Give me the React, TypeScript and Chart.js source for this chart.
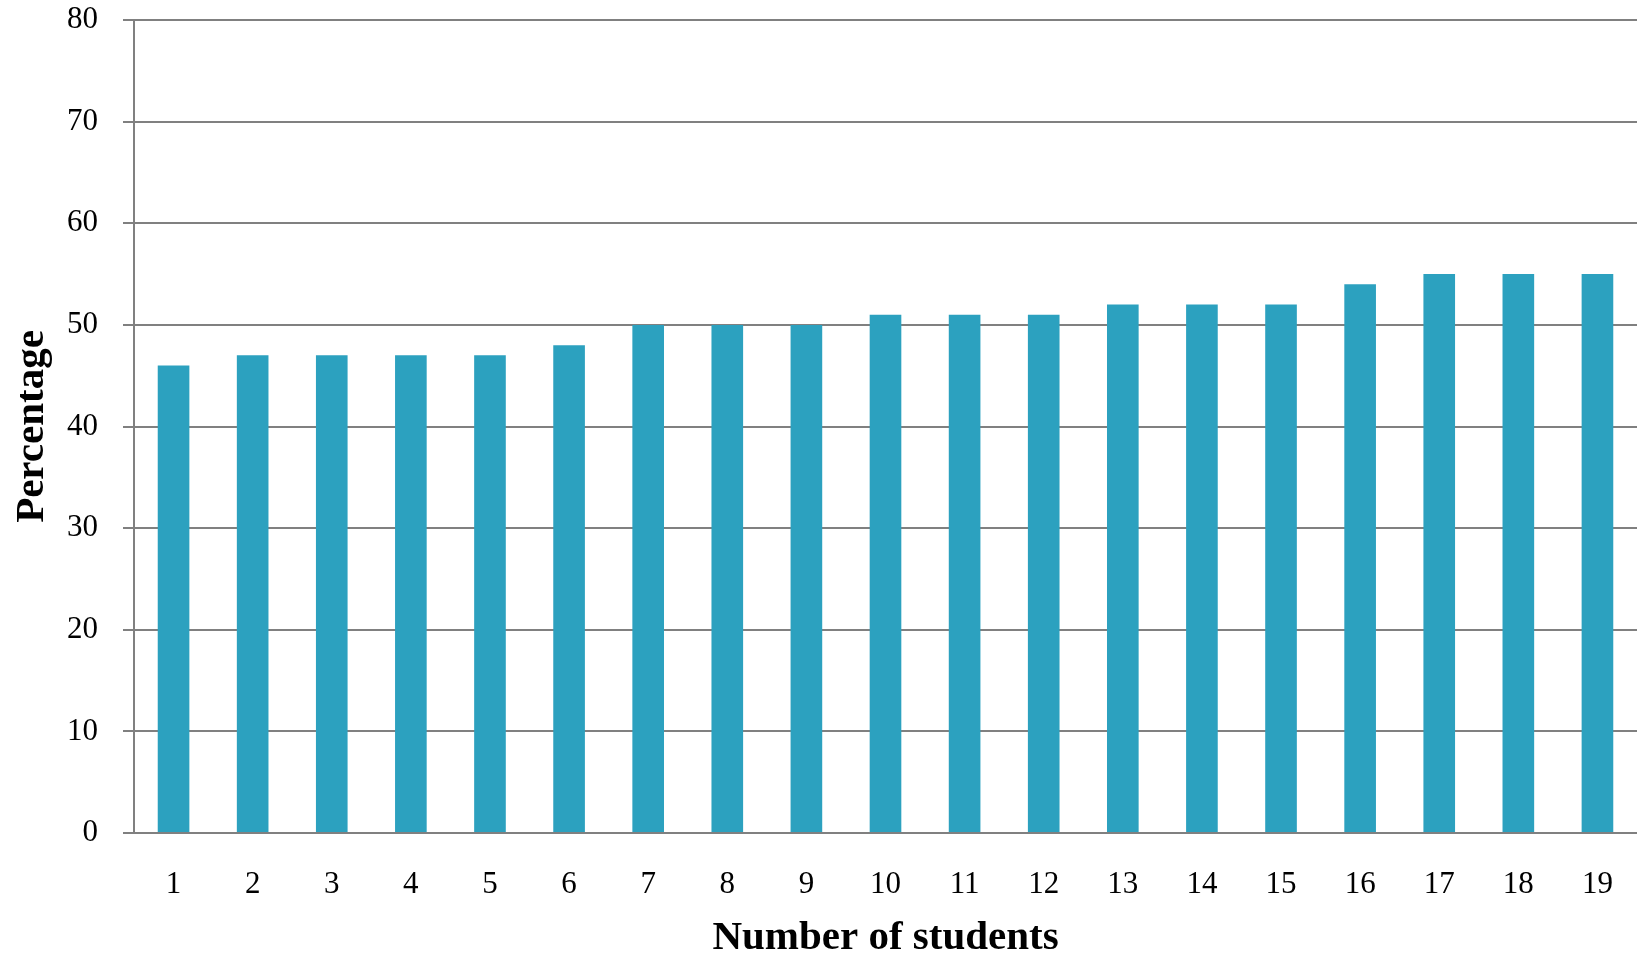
import React, { useEffect, useRef } from "react";
import { Chart, registerables } from "chart.js";

Chart.register(...registerables);

// Percentage for each number of students
const studentCounts: string[] = [
  "1", "2", "3", "4", "5", "6", "7", "8", "9", "10",
  "11", "12", "13", "14", "15", "16", "17", "18", "19",
];
const percentages: number[] = [
  46, 47, 47, 47, 47, 48, 50, 50, 50, 51,
  51, 51, 52, 52, 52, 54, 55, 55, 55,
];
const yTickValues: number[] = [0, 10, 20, 30, 40, 50, 60, 70, 80];

const xTitle = "Number of students";
const yTitle = "Percentage";

const WIDTH = 1637;
const HEIGHT = 954;
const BAR_COLOR = "rgb(44, 161, 191)";
const GRID_COLOR = "#808080";
const FONT = "'Liberation Serif', 'DejaVu Serif', serif";

export default function App() {
  const canvasRef = useRef<HTMLCanvasElement | null>(null);

  useEffect(() => {
    const canvas = canvasRef.current;
    if (!canvas) return;
    const chart = new Chart(canvas, {
      type: "bar",
      data: {
        labels: studentCounts,
        datasets: [
          {
            data: percentages,
            backgroundColor: BAR_COLOR,
            borderWidth: 0,
            barPercentage: 0.4,
            categoryPercentage: 1,
          },
        ],
      },
      options: {
        responsive: false,
        animation: false,
        devicePixelRatio: 1,
        layout: { padding: { top: 20, right: 0, left: 0, bottom: 0 } },
        plugins: {
          legend: { display: false },
          tooltip: { enabled: false },
        },
        scales: {
          x: {
            offset: true,
            grid: { display: false, drawTicks: false, drawOnChartArea: false },
            border: { display: true, color: GRID_COLOR, width: 2 },
            ticks: {
              color: "#000",
              font: { family: FONT, size: 31 },
              padding: 33,
              maxRotation: 0,
              autoSkip: false,
            },
            title: {
              display: true,
              text: xTitle,
              color: "#000",
              font: { family: FONT, size: 41, weight: "bold", lineHeight: 0.7 },
              padding: { top: 0, bottom: 1 },
            },
            afterFit: (scale: any) => {
              scale.height = 121;
              scale.paddingLeft = 0;
              scale.paddingRight = 0;
            },
          },
          y: {
            min: 0,
            max: 80,
            afterBuildTicks: (scale: any) => {
              scale.ticks = yTickValues.map((v) => ({ value: v }));
            },
            grid: {
              color: GRID_COLOR,
              lineWidth: 2,
              drawTicks: true,
              tickLength: 11,
              tickColor: GRID_COLOR,
            },
            border: { display: true, color: GRID_COLOR, width: 2 },
            ticks: {
              color: "#000",
              font: { family: FONT, size: 31 },
              padding: 25,
            },
            title: {
              display: true,
              text: yTitle,
              color: "#000",
              font: { family: FONT, size: 41, weight: "bold", lineHeight: 1 },
              padding: { top: 12, bottom: 0 },
            },
            afterFit: (scale: any) => {
              scale.width = 134;
              scale.paddingTop = 0;
              scale.paddingBottom = 0;
            },
          },
        },
      },
    });
    return () => chart.destroy();
  }, []);

  return (
    <div
      style={{
        position: "fixed",
        left: 0,
        top: 0,
        width: WIDTH,
        height: HEIGHT,
        background: "#fff",
        overflow: "hidden",
      }}
    >
      <canvas ref={canvasRef} width={WIDTH} height={HEIGHT} style={{ display: "block" }} />
    </div>
  );
}
